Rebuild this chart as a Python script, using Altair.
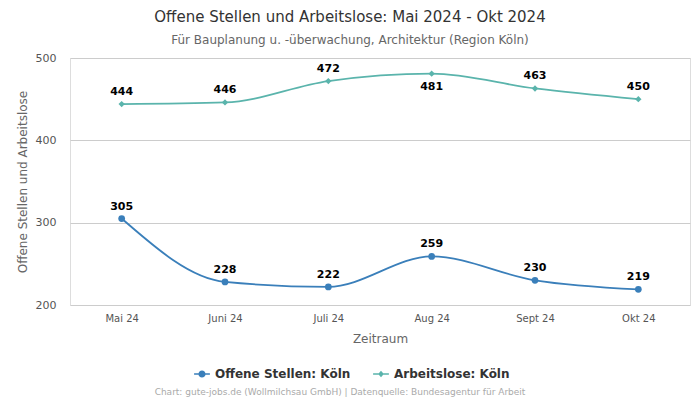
import altair as alt
import pandas as pd

months = ["Mai 24", "Juni 24", "Juli 24", "Aug 24", "Sept 24", "Okt 24"]
offene = [305, 228, 222, 259, 230, 219]
arbeitslose = [444, 446, 472, 481, 463, 450]
series_names = ["Offene Stellen: Köln", "Arbeitslose: Köln"]
colors = ["#3a7fba", "#5ab4ac"]

rows = []
for m, v in zip(months, offene):
    rows.append({"Monat": m, "Wert": v, "Reihe": series_names[0]})
for m, v in zip(months, arbeitslose):
    rows.append({"Monat": m, "Wert": v, "Reihe": series_names[1]})
df = pd.DataFrame(rows)

font = "DejaVu Sans"

x = alt.X("Monat:N", sort=months,
          scale=alt.Scale(type="point", padding=0.5),
          axis=alt.Axis(title="Zeitraum", labelAngle=0, grid=False, domain=False, ticks=False,
                        labelColor="#555", labelFontSize=10, labelPadding=8,
                        titleColor="#666", titleFontSize=12, titleFontWeight="normal",
                        titlePadding=10))
y = alt.Y("Wert:Q", scale=alt.Scale(domain=[200, 500], nice=False),
          axis=alt.Axis(title="Offene Stellen und Arbeitslose", values=[200, 300, 400, 500],
                        domain=False, ticks=False, gridColor="#cccccc",
                        labelColor="#555", labelFontSize=11, labelPadding=14,
                        titleColor="#666", titleFontSize=12, titleFontWeight="normal",
                        titlePadding=6))
color_scale = alt.Scale(domain=series_names, range=colors)

p1 = "M-1,-0.1L1,-0.1L1,0.1L-1,0.1Z M0.45,0A0.45,0.45 0 1,1 -0.45,0A0.45,0.45 0 1,1 0.45,0Z"
p2 = "M-1,-0.1L1,-0.1L1,0.1L-1,0.1Z M0,-0.42L0.36,0L0,0.42L-0.36,0Z"

legend = alt.Legend(title=None, orient="none", direction="horizontal", legendX=124, legendY=308,
                    labelFont=font, labelFontSize=12, labelFontWeight="bold", labelColor="#333",
                    symbolSize=250, symbolOpacity=1, symbolStrokeWidth=0, columnPadding=22,
                    labelOffset=5)

color = alt.Color("Reihe:N", scale=color_scale, legend=legend, sort=series_names)
shape = alt.Shape("Reihe:N", scale=alt.Scale(domain=series_names, range=[p1, p2]),
                  legend=legend, sort=series_names)

base = alt.Chart(df)

line = base.mark_line(interpolate="monotone", strokeWidth=1.8).encode(x=x, y=y, color=color)
points_a = base.transform_filter(alt.datum.Reihe == series_names[0]).mark_point(
    filled=True, opacity=1, size=45, shape="circle").encode(x=x, y=y, color=color)
points_b = base.transform_filter(alt.datum.Reihe == series_names[1]).mark_point(
    filled=True, opacity=1, size=40, shape="diamond").encode(x=x, y=y, color=color)
legend_layer = base.mark_point(filled=True, opacity=0, size=1).encode(
    x=x, y=y, color=color, shape=shape)

is_below = (alt.datum.Reihe == series_names[1]) & (alt.datum.Monat == "Aug 24")
labels_above = base.transform_filter(~is_below).mark_text(
    dy=-12, font=font, fontSize=11, fontWeight="bold", color="#000").encode(x=x, y=y, text="Wert:Q")
labels_below = base.transform_filter(is_below).mark_text(
    dy=13, font=font, fontSize=11, fontWeight="bold", color="#000").encode(x=x, y=y, text="Wert:Q")

footer = alt.Chart(pd.DataFrame({"t": ["Chart: gute-jobs.de (Wollmilchsau GmbH) | Datenquelle: Bundesagentur für Arbeit"]})).mark_text(
    font=font, fontSize=9, color="#aaaaaa").encode(
    text="t:N", x=alt.value(270), y=alt.value(334))

chart = alt.layer(line, points_a, points_b, legend_layer, labels_above, labels_below, footer).properties(
    width=620, height=247,
    autosize=alt.AutoSizeParams(type="none"),
    padding={"left": 62, "top": 50, "right": 2, "bottom": 95},
    title=alt.Title("Offene Stellen und Arbeitslose: Mai 2024 - Okt 2024",
                    subtitle="Für Bauplanung u. -überwachung, Architektur (Region Köln)",
                    anchor="middle", dx=-30, offset=6, font=font, fontSize=15, fontWeight="normal",
                    color="#333", subtitleFont=font, subtitleFontSize=12, subtitleColor="#666",
                    subtitlePadding=10)
).configure_view(stroke=None).configure(font=font)

chart.save("out.html", embed_options={"renderer": "svg", "actions": False})
